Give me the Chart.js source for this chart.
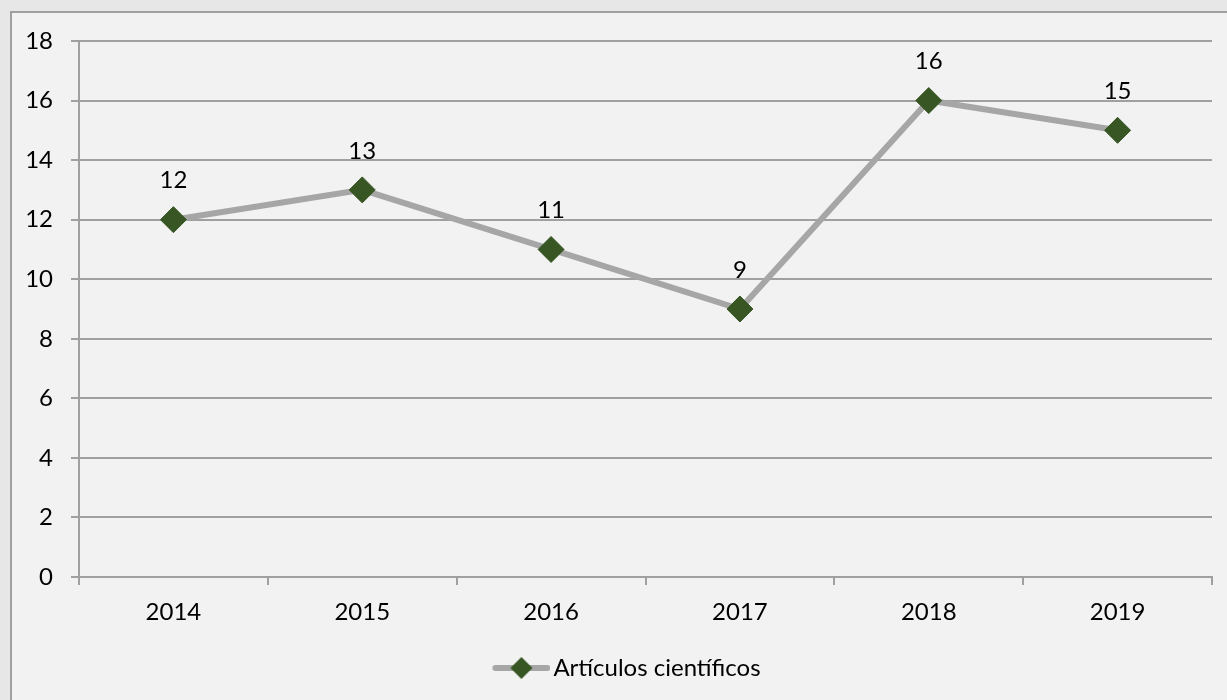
<!DOCTYPE html>
<html>
<head>
<meta charset="utf-8">
<script src="https://cdn.jsdelivr.net/npm/chart.js@4.4.0/dist/chart.umd.min.js"></script>
<style>
  html, body { margin: 0; padding: 0; background: #e7e7e7; }
  #wrap { width: 1227px; height: 700px; }
</style>
</head>
<body>
<div id="wrap"><canvas id="ArticlesChart" width="1227" height="700"></canvas></div>
<script>
const categories = ['2014', '2015', '2016', '2017', '2018', '2019'];
const articleCounts = [12, 13, 11, 9, 16, 15];
const seriesName = 'Artículos científicos';
const yMin = 0;
const yMax = 18;
const yStep = 2;

const FONT = 'Lato, "Noto Sans", sans-serif';
const GRID = '#a0a0a0';
const LINE = '#a6a6a6';
const MARK = '#375623';

// legend symbol: grey line with a diamond on it (left part left empty for spacing)
const legendIcon = document.createElement('canvas');
legendIcon.width = 108;
legendIcon.height = 24;
(function () {
    const c = legendIcon.getContext('2d');
    c.strokeStyle = LINE;
    c.lineWidth = 6;
    c.lineCap = 'round';
    c.beginPath();
    c.moveTo(53, 12);
    c.lineTo(105, 12);
    c.stroke();
    c.fillStyle = MARK;
    c.beginPath();
    c.moveTo(79, 1);
    c.lineTo(90, 12);
    c.lineTo(79, 23);
    c.lineTo(68, 12);
    c.closePath();
    c.fill();
})();

// background + frame
const framePlugin = {
    id: 'frame',
    beforeDraw(chart) {
        const c = chart.ctx;
        c.save();
        c.fillStyle = '#e7e7e7';
        c.fillRect(0, 0, chart.width, chart.height);
        c.fillStyle = '#f2f2f2';
        c.fillRect(10, 11, chart.width - 10, chart.height - 11);
        c.strokeStyle = '#a0a0a0';
        c.lineWidth = 2;
        c.beginPath();
        c.moveTo(11, chart.height);
        c.lineTo(11, 12);
        c.lineTo(chart.width, 12);
        c.stroke();
        c.restore();
    }
};

// value labels above the points
const valueLabels = {
    id: 'valueLabels',
    afterDatasetsDraw(chart) {
        const c = chart.ctx;
        const meta = chart.getDatasetMeta(0);
        c.save();
        c.font = '24px ' + FONT;
        c.fillStyle = '#000';
        c.textAlign = 'center';
        c.textBaseline = 'middle';
        meta.data.forEach((pt, i) => {
            c.fillText(chart.data.datasets[0].data[i], pt.x, pt.y - 39);
        });
        c.restore();
    }
};

const ctx = document.getElementById('ArticlesChart').getContext('2d');

const ArticlesChart = new Chart(ctx, {
    type: 'line',
    data: {
        labels: categories,
        datasets: [{
            label: seriesName,
            data: articleCounts,
            borderColor: LINE,
            borderWidth: 6,
            tension: 0,
            pointStyle: 'rectRot',
            pointRadius: 13,
            pointHoverRadius: 13,
            pointBackgroundColor: MARK,
            pointBorderColor: MARK,
            pointBorderWidth: 1
        }]
    },
    options: {
        responsive: false,
        animation: false,
        layout: {
            padding: { left: 0, right: 15, top: 41, bottom: 10 }
        },
        plugins: {
            legend: {
                position: 'bottom',
                labels: {
                    usePointStyle: true,
                    pointStyleWidth: 90,
                    padding: 10,
                    color: '#000',
                    font: { family: FONT, size: 24 },
                    generateLabels: (chart) => [{
                        text: seriesName,
                        pointStyle: legendIcon,
                        fillStyle: MARK,
                        strokeStyle: MARK,
                        lineWidth: 0,
                        datasetIndex: 0
                    }]
                }
            },
            tooltip: { enabled: false }
        },
        scales: {
            x: {
                offset: true,
                afterFit: (s) => { s.height = 69; },
                grid: {
                    offset: true,
                    drawOnChartArea: false,
                    drawTicks: true,
                    tickLength: 8,
                    color: GRID,
                    lineWidth: 2
                },
                border: { display: true, color: GRID, width: 2 },
                ticks: {
                    padding: 13,
                    color: '#000',
                    font: { family: FONT, size: 24 }
                }
            },
            y: {
                min: yMin,
                max: yMax,
                afterFit: (s) => { s.width = 79; },
                grid: {
                    color: GRID,
                    lineWidth: 2,
                    tickLength: 8
                },
                border: { display: true, color: GRID, width: 2 },
                ticks: {
                    stepSize: yStep,
                    padding: 18,
                    color: '#000',
                    font: { family: FONT, size: 24 }
                }
            }
        }
    },
    plugins: [framePlugin, valueLabels]
});
</script>
</body>
</html>
